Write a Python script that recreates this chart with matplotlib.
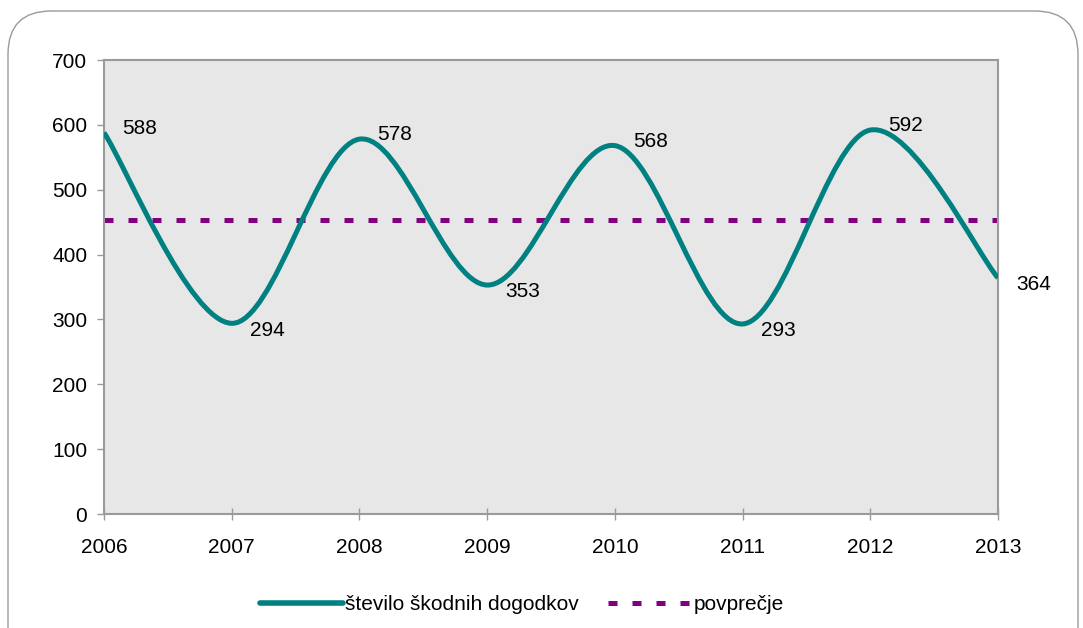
import matplotlib.pyplot as plt
from matplotlib.path import Path
from matplotlib.patches import PathPatch, FancyBboxPatch
from matplotlib.lines import Line2D

years = [2006, 2007, 2008, 2009, 2010, 2011, 2012, 2013]
events = [588, 294, 578, 353, 568, 293, 592, 364]
average = sum(events) / len(events)

plt.rcParams['font.family'] = ['Liberation Sans', 'DejaVu Sans']

teal = '#008080'
purple = '#800080'
grey = '#9a9a9a'
fs = 15

fig = plt.figure(figsize=(10.83, 6.28), dpi=100)
ax = fig.add_axes([104 / 1083, 1 - 514 / 628, 894 / 1083, 454 / 628])

# rounded outer frame
frame = FancyBboxPatch((8 / 1083, -0.1), 1070 / 1083, 1.1 - 11 / 628,
                       boxstyle="round,pad=0,rounding_size=0.04",
                       transform=fig.transFigure, facecolor='none',
                       edgecolor=grey, linewidth=1.0, mutation_aspect=1083 / 628,
                       clip_on=False)
fig.patches.append(frame)

ax.set_facecolor('#e7e7e7')

# smooth curve (cubic bezier through the yearly points, like excel "smoothed line")
verts = [(years[0], events[0])]
codes = [Path.MOVETO]
n = len(years)
for i in range(n - 1):
    p0 = (years[max(i - 1, 0)], events[max(i - 1, 0)])
    p1 = (years[i], events[i])
    p2 = (years[i + 1], events[i + 1])
    p3 = (years[min(i + 2, n - 1)], events[min(i + 2, n - 1)])
    c1 = (p1[0] + (p2[0] - p0[0]) / 6, p1[1] + (p2[1] - p0[1]) / 6)
    c2 = (p2[0] - (p3[0] - p1[0]) / 6, p2[1] - (p3[1] - p1[1]) / 6)
    verts += [c1, c2, p2]
    codes += [Path.CURVE4] * 3
ax.add_patch(PathPatch(Path(verts, codes), facecolor='none', edgecolor=teal,
                       linewidth=3.6, capstyle='butt', joinstyle='round', zorder=3))

ax.plot([years[0], years[-1]], [average, average], color=purple, linewidth=3.6,
        dashes=(1.8, 3.0), zorder=2)

for i, (x, y) in enumerate(zip(years, events)):
    dy = -5 if y < average else 3
    ax.annotate(str(y), (x, y), xytext=(13, dy), textcoords='offset points',
                ha='left', va='center', fontsize=fs, color='black')

ax.set_xlim(years[0], years[-1])
ax.set_ylim(0, 700)
ax.set_xticks(years)
ax.set_yticks(range(0, 701, 100))
for s in ax.spines.values():
    s.set_color(grey)
    s.set_linewidth(1.5)
ax.tick_params(axis='y', colors=grey, labelcolor='black', labelsize=fs,
               length=5, width=1, pad=7)
ax.tick_params(axis='x', colors=grey, labelcolor='black', labelsize=fs,
               length=8, width=1, direction='inout', pad=13)

handles = [Line2D([], [], color=teal, linewidth=4, solid_capstyle='round'),
           Line2D([], [], color=purple, linewidth=3.6, dashes=(1.8, 3.0))]
fig.legend(handles, ['število škodnih dogodkov', 'povprečje'],
           loc='center', bbox_to_anchor=(522 / 1083, 1 - 605 / 628), ncol=2,
           frameon=False, fontsize=fs, handlelength=4.0, handletextpad=0.1,
           columnspacing=1.4)

fig.savefig('out.png', dpi=100)
